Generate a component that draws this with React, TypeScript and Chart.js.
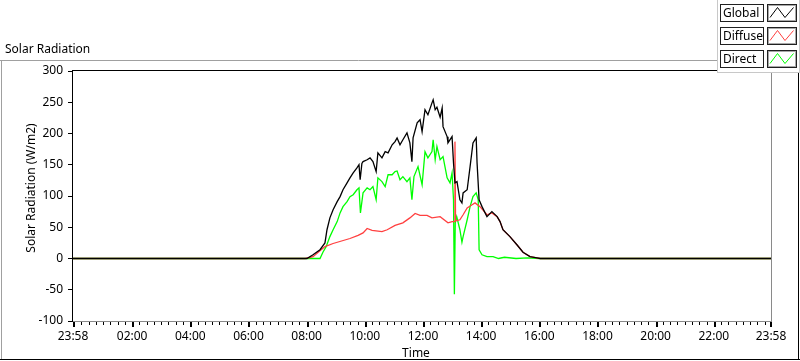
import React, { useEffect, useRef } from 'react';
import { Chart, registerables } from 'chart.js';

Chart.register(...registerables);

const FONT = '"Noto Sans", sans-serif';

const seriesNames = ['Global', 'Diffuse', 'Direct'];
const seriesColors = ['#000000', '#ff4040', '#00ff00'];

const xMin = -2 / 60;
const xMax = 24 - 2 / 60;
const xTickHours = [-2 / 60, 2, 4, 6, 8, 10, 12, 14, 16, 18, 20, 22, 24 - 2 / 60];
const xTickLabels = ['23:58', '02:00', '04:00', '06:00', '08:00', '10:00', '12:00', '14:00', '16:00', '18:00', '20:00', '22:00', '23:58'];
const yMin = -100;
const yMax = 300;
const yStep = 50;

const globalTimes = [-0.033, 7.9, 8.01, 8.22, 8.46, 8.63, 8.7, 8.8, 8.91, 9.05, 9.15, 9.25, 9.39, 9.49, 9.6, 9.73, 9.8, 9.84, 9.9, 9.94, 10.08, 10.18, 10.28, 10.39, 10.45, 10.59, 10.7, 10.8, 10.94, 11.04, 11.11, 11.21, 11.31, 11.45, 11.55, 11.62, 11.66, 11.8, 11.9, 11.97, 12.07, 12.17, 12.31, 12.35, 12.42, 12.48, 12.59, 12.66, 12.69, 12.83, 12.86, 13.0, 13.03, 13.05, 13.1, 13.17, 13.27, 13.34, 13.38, 13.52, 13.62, 13.72, 13.83, 13.86, 13.93, 14.03, 14.2, 14.37, 14.55, 14.65, 14.75, 14.99, 15.23, 15.44, 15.68, 15.92, 16.03, 23.967];
const globalValues = [0, 0, 0, 6, 14, 25, 46, 65, 78, 91, 99, 110, 121, 129, 137, 145, 150, 126, 152, 155, 158, 161, 155, 139, 169, 161, 171, 169, 182, 187, 193, 182, 190, 201, 185, 155, 193, 217, 222, 203, 238, 230, 249, 254, 238, 242, 226, 241, 211, 195, 185, 195, 195, 153, 121, 123, 94, 89, 105, 110, 147, 185, 193, 153, 94, 83, 67, 75, 67, 59, 46, 35, 22, 10, 3, 1, 0, 0];

const diffuseTimes = [-0.033, 7.95, 8.22, 8.63, 8.91, 9.49, 9.77, 9.94, 10.08, 10.25, 10.59, 10.77, 11.04, 11.31, 11.55, 11.73, 11.9, 12.14, 12.31, 12.59, 12.86, 13.0, 13.08, 13.1, 13.12, 13.27, 13.38, 13.52, 13.69, 13.79, 13.96, 14.2, 14.37, 14.55, 14.65, 14.75, 14.99, 15.23, 15.44, 15.68, 15.92, 16.03, 23.967];
const diffuseValues = [0, 0, 3, 19, 24, 32, 37, 41, 48, 45, 43, 46, 53, 57, 65, 72, 69, 69, 65, 67, 57, 59, 59, 187, 60, 62, 70, 81, 86, 89, 83, 70, 73, 67, 59, 46, 35, 22, 10, 3, 1, 0, 0];

const directTimes = [-0.033, 8.46, 8.56, 8.67, 8.8, 8.91, 9.05, 9.15, 9.25, 9.39, 9.49, 9.6, 9.73, 9.8, 9.85, 9.94, 10.08, 10.18, 10.28, 10.39, 10.45, 10.59, 10.7, 10.8, 10.94, 11.04, 11.11, 11.21, 11.31, 11.45, 11.55, 11.62, 11.69, 11.83, 11.97, 12.07, 12.17, 12.31, 12.35, 12.42, 12.48, 12.59, 12.69, 12.83, 12.93, 13.0, 13.05, 13.08, 13.11, 13.16, 13.27, 13.34, 13.38, 13.52, 13.62, 13.72, 13.83, 13.9, 13.93, 14.03, 14.2, 14.41, 14.6, 14.8, 15.2, 15.6, 16.0, 23.967];
const directValues = [0, 0, 10, 19, 35, 46, 59, 73, 83, 91, 99, 102, 110, 113, 73, 105, 113, 110, 115, 94, 129, 123, 115, 134, 134, 139, 140, 126, 131, 123, 129, 94, 131, 147, 118, 171, 161, 171, 190, 158, 179, 158, 163, 129, 121, 137, 94, -57, 57, 67, 46, 26, 35, 62, 83, 99, 105, 94, 14, 6, 3, 3, 0, 2, 0, 1, 0, 0];

const framePlugin = {
  id: 'frame',
  afterDraw(chart: any) {
    const ctx: CanvasRenderingContext2D = chart.ctx;
    const { left, right, top, bottom } = chart.chartArea;
    const xs = chart.scales.x;
    const line = (x1: number, y1: number, x2: number, y2: number) => {
      ctx.beginPath();
      ctx.moveTo(x1, y1);
      ctx.lineTo(x2, y2);
      ctx.stroke();
    };
    ctx.save();
    ctx.lineWidth = 1;
    // outer panel frame
    ctx.strokeStyle = '#a0a0a0';
    line(0, 60.5, 717, 60.5);
    line(1.5, 60, 1.5, 359);
    ctx.strokeStyle = '#000';
    line(0, 359.5, 800, 359.5);
    line(798.5, 72, 798.5, 360);
    // plot frame
    ctx.strokeStyle = '#000';
    line(left - 0.5, top - 1, left - 0.5, bottom + 1);
    line(left - 1, top - 0.5, right + 1, top - 0.5);
    ctx.strokeStyle = '#8a8a8a';
    line(right + 0.5, top - 1, right + 0.5, bottom + 1);
    line(left, bottom + 0.5, right + 1, bottom + 0.5);
    // x ticks
    ctx.fillStyle = '#000';
    const by = Math.round(bottom) + 1;
    for (let m = 0; m <= 96; m++) {
      const h = m * 0.25;
      if (h > xMax) continue;
      if (xTickHours.some((t) => Math.abs(t - h) < 0.1)) continue;
      const px = Math.round(xs.getPixelForValue(h));
      ctx.fillRect(px, by, 1, 3);
    }
    xTickHours.forEach((h) => {
      const px = Math.round(xs.getPixelForValue(h));
      ctx.fillRect(px - (h > 23 ? 1 : 0), by, 2, 5);
    });
    // texts
    ctx.fillStyle = '#000';
    ctx.font = `12px ${FONT}`;
    ctx.textBaseline = 'middle';
    ctx.textAlign = 'left';
    ctx.fillText('Solar Radiation', 5, 50);
    ctx.textAlign = 'center';
    ctx.fillText('Time', 416, 354);
    ctx.save();
    ctx.translate(32, 188);
    ctx.rotate(-Math.PI / 2);
    ctx.fillText('Solar Radiation (W/m2)', 0, 0);
    ctx.restore();
    // legend panel
    ctx.fillStyle = '#fff';
    ctx.fillRect(717, 0, 83, 72);
    ctx.strokeStyle = '#c8c8c8';
    line(717.5, 0, 717.5, 72);
    line(717, 72.5, 800, 72.5);
    line(799.5, 0, 799.5, 72);
    seriesNames.forEach((name, i) => {
      const rt = 4 + i * 23;
      ctx.strokeStyle = '#202020';
      ctx.strokeRect(720.5, rt + 0.5, 43, 17);
      ctx.strokeRect(767.5, rt + 0.5, 29, 17);
      ctx.strokeStyle = '#a8a8a8';
      ctx.strokeRect(768.5, rt + 1.5, 27, 15);
      ctx.fillStyle = '#000';
      ctx.textAlign = 'left';
      ctx.fillText(name, 723, rt + 9.5);
      ctx.strokeStyle = seriesColors[i];
      ctx.beginPath();
      ctx.moveTo(770, rt + 13.5);
      ctx.lineTo(777.5, rt + 3.5);
      ctx.lineTo(785, rt + 13.5);
      ctx.lineTo(793.5, rt + 3.5);
      ctx.stroke();
    });
    ctx.restore();
  },
};

export default function App() {
  const ref = useRef<HTMLCanvasElement>(null);
  useEffect(() => {
    const canvas = ref.current!;
    const mk = (t: number[], v: number[]) => t.map((x, i) => ({ x, y: v[i] }));
    const series = [
      mk(globalTimes, globalValues),
      mk(diffuseTimes, diffuseValues),
      mk(directTimes, directValues),
    ];
    const font = { family: FONT, size: 12 };
    const chart = new Chart(canvas, {
      type: 'line',
      data: {
        datasets: series.map((d, i) => ({
          label: seriesNames[i],
          data: d,
          borderColor: seriesColors[i],
          backgroundColor: seriesColors[i],
          borderWidth: 1.3,
          pointRadius: 0,
          tension: 0,
          fill: false,
        })),
      },
      options: {
        responsive: false,
        animation: false,
        devicePixelRatio: 1,
        events: [],
        layout: { padding: { left: 0, top: 71, right: 29, bottom: 0 } },
        plugins: { legend: { display: false }, tooltip: { enabled: false }, title: { display: false } },
        scales: {
          x: {
            type: 'linear',
            min: xMin,
            max: xMax,
            afterBuildTicks: (s: any) => {
              s.ticks = xTickHours.map((v) => ({ value: v }));
            },
            afterFit: (s: any) => {
              s.height = 40;
            },
            grid: { display: false, drawTicks: false },
            border: { display: false },
            ticks: {
              autoSkip: false,
              maxRotation: 0,
              minRotation: 0,
              padding: 8.5,
              color: '#000',
              font,
              callback: (_v: any, i: number) => xTickLabels[i],
            },
          },
          y: {
            min: yMin,
            max: yMax,
            afterFit: (s: any) => {
              s.width = 73;
            },
            ticks: { stepSize: yStep, padding: 5, color: '#000', font },
            grid: { drawOnChartArea: false, drawTicks: true, tickLength: 5, tickColor: '#000' },
            border: { display: false },
          },
        },
      } as any,
      plugins: [framePlugin],
    });
    return () => chart.destroy();
  }, []);
  return (
    <div style={{ position: 'absolute', left: 0, top: 0, width: 800, height: 361, background: '#fff' }}>
      <canvas ref={ref} width={800} height={361} style={{ display: 'block', width: 800, height: 361 }} />
    </div>
  );
}
